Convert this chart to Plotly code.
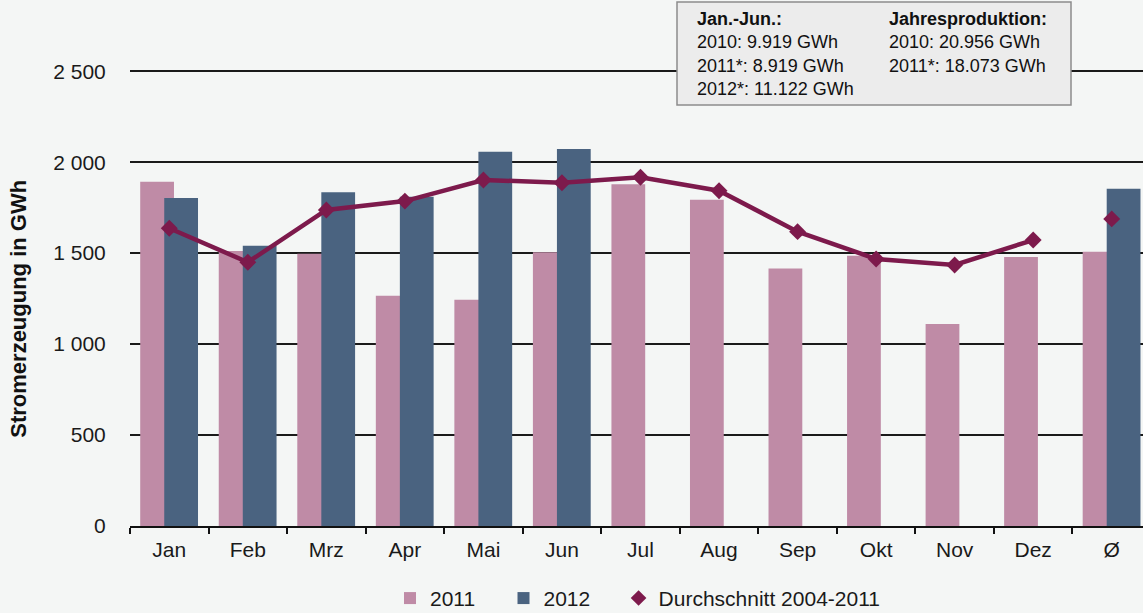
import plotly.graph_objects as go

categories = ["Jan", "Feb", "Mrz", "Apr", "Mai", "Jun", "Jul", "Aug", "Sep", "Okt", "Nov", "Dez", "Ø"]
values_2011 = [1892, 1512, 1496, 1265, 1243, 1505, 1878, 1794, 1415, 1486, 1111, 1479, 1507]
values_2012 = [1803, 1541, 1834, 1810, 2057, 2072, None, None, None, None, None, None, 1854]
avg_2004_2011 = [1637, 1450, 1737, 1786, 1902, 1887, 1917, 1843, 1618, 1468, 1435, 1572, None]
avg_total = 1688

PINK = "#bf8ba6"
BLUE = "#4a6380"
LINE = "#7d1a4c"
BG = "#f4f6f5"

W, H = 1143, 613
L, R = 130, 0
T, B = 53, 86.5
plot_w = W - L - R
plot_h = H - T - B

def px(x):
    return (x - L) / plot_w

def py(y):
    return (H - B - y) / plot_h

NB = "\u00a0"

fig = go.Figure()
fig.add_trace(go.Bar(x=categories, y=values_2011, name="2011" + NB * 4, marker=dict(color=PINK, line=dict(width=0)),
                     width=0.43, offset=-0.37))
fig.add_trace(go.Bar(x=categories, y=values_2012, name="2012" + NB * 4, marker=dict(color=BLUE, line=dict(width=0)),
                     width=0.43, offset=-0.064))
fig.add_trace(go.Scatter(x=categories, y=avg_2004_2011, name="Durchschnitt 2004-2011", mode="lines+markers",
                         line=dict(color=LINE, width=4.5), showlegend=False,
                         marker=dict(symbol="diamond", size=13, color=LINE)))
fig.add_trace(go.Scatter(x=[categories[-1]], y=[avg_total], mode="markers", showlegend=False,
                         marker=dict(symbol="diamond", size=13, color=LINE)))
fig.add_trace(go.Scatter(x=[None], y=[None], mode="markers", name="Durchschnitt 2004-2011",
                         marker=dict(symbol="diamond", size=12, color=LINE)))

fig.update_layout(
    width=W, height=H,
    margin=dict(l=L, r=R, t=T, b=B, autoexpand=False),
    paper_bgcolor=BG, plot_bgcolor=BG,
    barmode="overlay",
    separators=", ",
    font=dict(family="Liberation Sans, Arial, sans-serif", size=21, color="#1a1a1a"),
    showlegend=True,
    legend=dict(orientation="h", x=px(390), xanchor="left", y=py(599), yanchor="middle",
                font=dict(size=21), bgcolor="rgba(0,0,0,0)", traceorder="normal", itemwidth=30),
    xaxis=dict(range=[-0.5, 12.5 - 8 / 78.5], showgrid=False, showline=True, linecolor="#111", linewidth=2,
               ticks="outside", tickson="boundaries", ticklen=6, tickcolor="#111", tickwidth=1.5,
               tickfont=dict(size=21), ticklabelstandoff=4, fixedrange=True),
    yaxis=dict(range=[0, 2600], tickvals=[0, 500, 1000, 1500, 2000, 2500], tickformat=",d",
               showgrid=True, gridcolor="#1a1a1a", gridwidth=1.6, zeroline=False, showline=False,
               ticks="outside", ticklen=19, tickcolor=BG, tickfont=dict(size=21), fixedrange=True),
)

fig.add_annotation(xref="paper", yref="paper", x=-(L - 18.5) / plot_w, y=py(309.5), xanchor="center", yanchor="middle",
                   textangle=-90, showarrow=False, font=dict(size=22, color="#111"),
                   text="<b>Stromerzeugung in GWh</b>")

fig.add_shape(type="rect", xref="paper", yref="paper",
              x0=px(677), x1=px(1071), y0=py(105), y1=py(2),
              fillcolor="#ececec", line=dict(color="#8c8c8c", width=1.5), layer="above")

fig.add_annotation(xref="paper", yref="paper", x=px(695), y=py(7), xanchor="left", yanchor="top",
                   align="left", showarrow=False, font=dict(size=18, color="#111"),
                   text="<b>Jan.-Jun.:</b><br>2010: 9.919 GWh<br>2011*: 8.919 GWh<br>2012*: 11.122 GWh")
fig.add_annotation(xref="paper", yref="paper", x=px(887), y=py(7), xanchor="left", yanchor="top",
                   align="left", showarrow=False, font=dict(size=18, color="#111"),
                   text="<b>Jahresproduktion:</b><br>2010: 20.956 GWh<br>2011*: 18.073 GWh")

fig.write_html("out.html", config={"displayModeBar": False},
               post_script="document.body.style.margin='0px';document.body.style.overflow='hidden';")
